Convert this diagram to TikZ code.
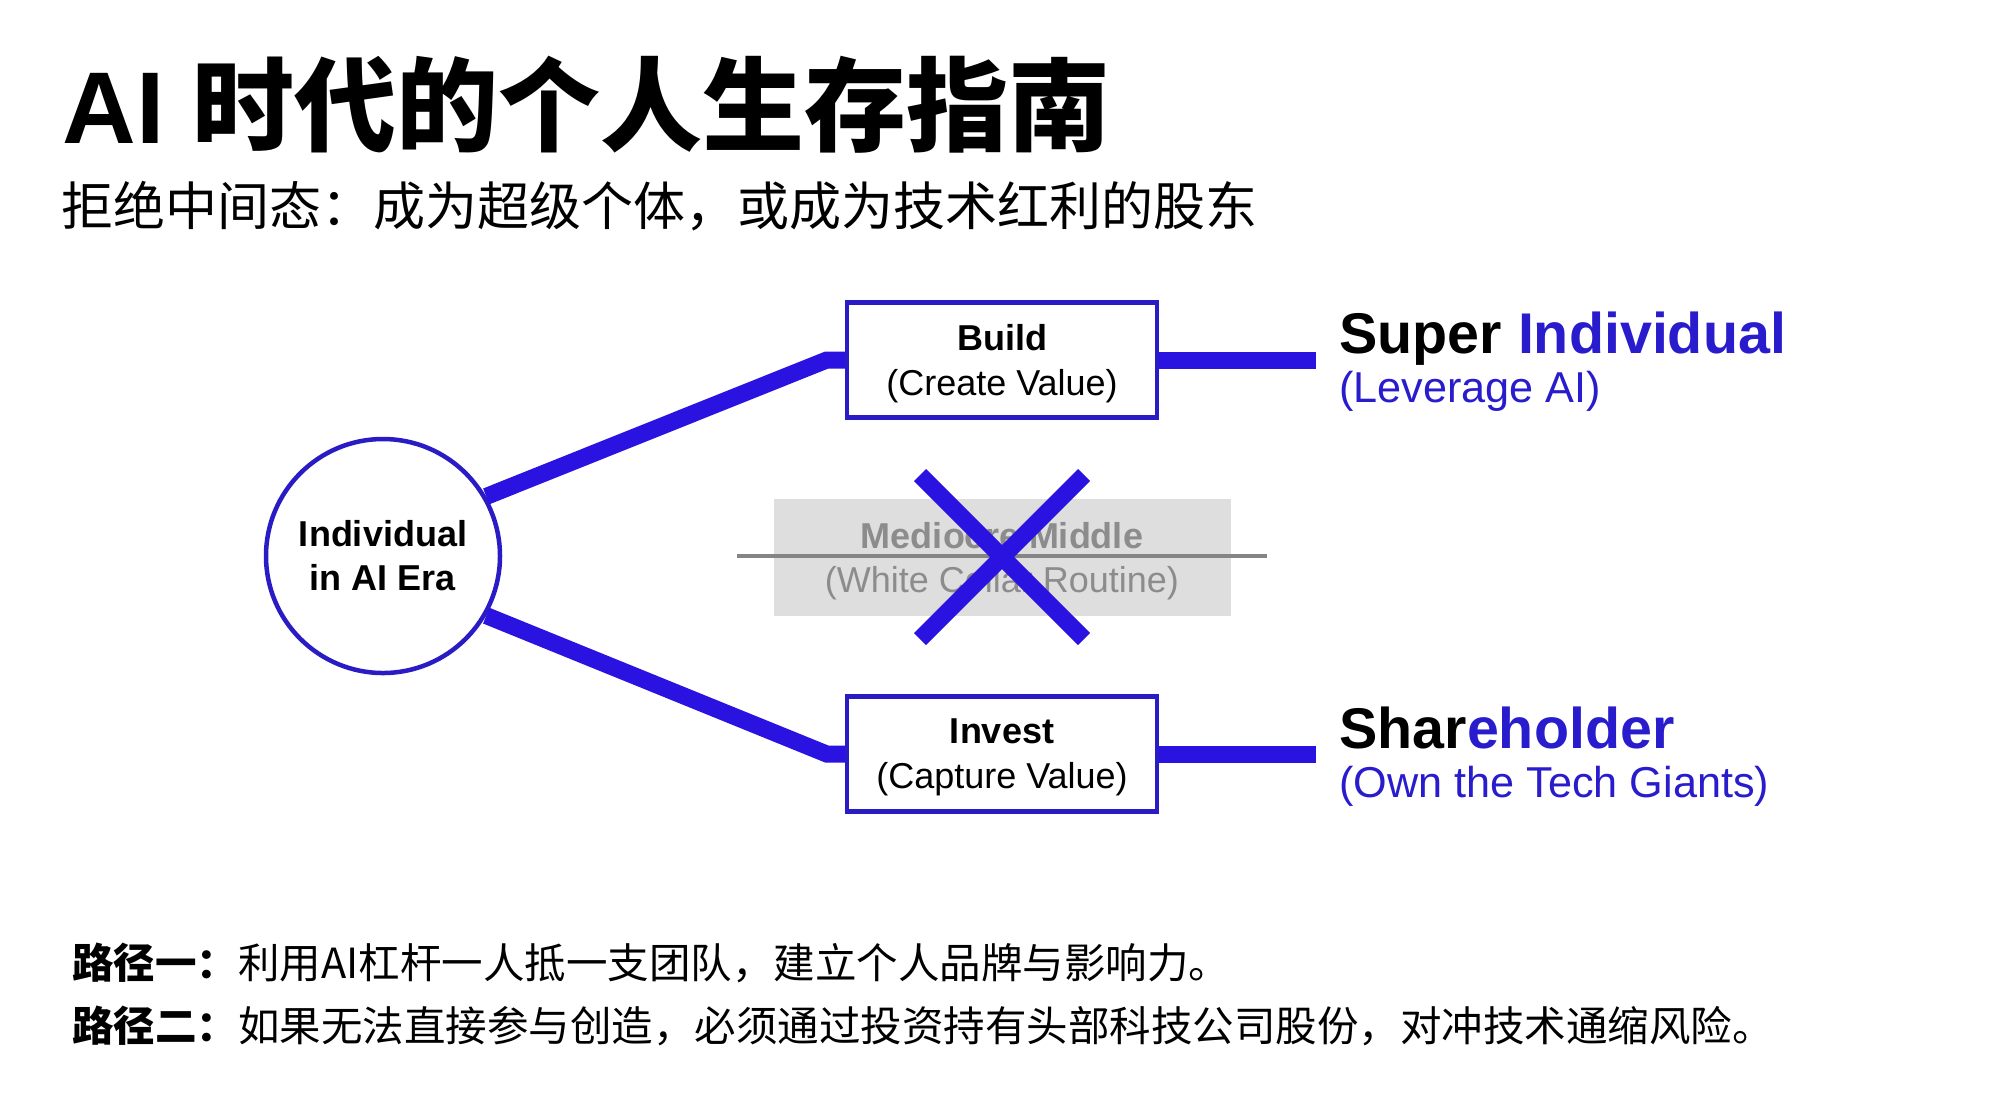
\documentclass[tikz,border=0pt]{standalone}
\usepackage{fontspec}
\setmainfont{Liberation Sans}
\newfontfamily\cjk{Noto Sans CJK SC}
\definecolor{lineblue}{RGB}{42,18,224}
\definecolor{edgeblue}{RGB}{42,28,196}
\definecolor{textblue}{RGB}{40,28,205}
\begin{document}
\begin{tikzpicture}[x=0.5pt,y=0.5pt,
            hub/.style={circle,draw=edgeblue,line width=2.25pt,minimum size=117pt,inner sep=0pt,align=center,font=\fontsize{18}{22}\selectfont\bfseries},
            pathbox/.style={rectangle,draw=edgeblue,line width=2.25pt,fill=white,minimum width=155pt,minimum height=57.5pt,inner sep=0pt,text depth=0pt,align=center,font=\fontsize{18}{22.5}\selectfont},
            midbox/.style={rectangle,fill=black!13,text=black!45,minimum width=228.5pt,minimum height=58.5pt,inner sep=0pt,text depth=0pt,align=center,font=\fontsize{18}{22}\selectfont},
            link/.style={draw=lineblue,line width=8.5pt},
            crossout/.style={draw=lineblue,line width=8.5pt},
            strike/.style={draw=black!48,line width=2pt},
            goal/.style={anchor=base west,inner sep=0pt,font=\fontsize{28.7}{28.7}\selectfont\bfseries},
            goalsub/.style={anchor=base west,inner sep=0pt,text=textblue,font=\fontsize{21.6}{21.6}\selectfont},
            note/.style={anchor=base west,inner sep=0pt,font=\cjk\fontsize{20.75}{20.75}\selectfont}]
            \fill [white] (0,0) rectangle (2000,-1116);
            \useasboundingbox (0,0) rectangle (2000,-1116);
                \node [anchor=base west,inner sep=0pt,font=\fontsize{51}{51}\selectfont\bfseries] (title) at (62,-143) {AI {\cjk 时代的个人生存指南}};
                \node [anchor=base west,inner sep=0pt,font=\cjk\fontsize{26}{26}\selectfont] (subtitle) at (61,-225) {拒绝中间态：成为超级个体，或成为技术红利的股东};
                \node [hub] (era) at (383,-556) {Individual\\in AI Era};
                \node [pathbox] (build) at (1002,-360) {\textbf{Build}\\(Create Value)};
                \node [pathbox] (invest) at (1002,-754) {\textbf{Invest}\\(Capture Value)};
                \node [midbox] (mid) at (1002,-557) {\textbf{Mediocre Middle}\\(White Collar Routine)};
                \draw [strike] ([xshift=-18pt,yshift=0.5pt]mid.west) -- ([xshift=18pt,yshift=0.5pt]mid.east);
                \draw [crossout] ([shift={(-41pt,41pt)}]mid.center) -- ([shift={(41pt,-41pt)}]mid.center);
                \draw [crossout] ([shift={(41pt,41pt)}]mid.center) -- ([shift={(-41pt,-41pt)}]mid.center);
                \coordinate (upend) at (1316,-360);
                \coordinate (downend) at (1316,-754);
                \draw [link] (era.30) -- ([xshift=-9pt]build.west) -- (build.west);
                \draw [link] (era.-30) -- ([xshift=-9pt]invest.west) -- (invest.west);
                \draw [link] (build.east) -- (upend);
                \draw [link] (invest.east) -- (downend);
                \node [goal] (super) at (1339,-353) {Super \textcolor{textblue}{Individual}};
                \node [goalsub] (supersub) at (1339,-402) {(Leverage AI)};
                \node [goal] (holder) at (1339,-748) {Shar\textcolor{textblue}{eholder}};
                \node [goalsub] (holdersub) at (1339,-797) {(Own the Tech Giants)};
                \node [note] (pathone) at (72,-978) {\textbf{路径一：}利用AI杠杆一人抵一支团队，建立个人品牌与影响力。};
                \node [note] (pathtwo) at (72,-1041) {\textbf{路径二：}如果无法直接参与创造，必须通过投资持有头部科技公司股份，对冲技术通缩风险。};
\end{tikzpicture}
\end{document}
